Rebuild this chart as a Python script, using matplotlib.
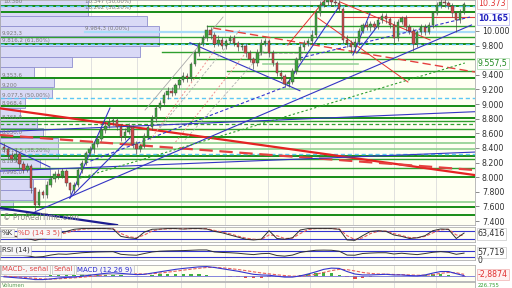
import numpy as np
import matplotlib.pyplot as plt
from matplotlib.transforms import blended_transform_factory

# --- 1. Datos de las velas ---
closes = [
    8380, 8300, 8250, 8320, 8180, 8100, 8150, 7850, 7620, 7800,
    7760, 7900, 7980, 8050, 8020, 8080, 7920, 7830, 7900, 8100,
    8200, 8330, 8380, 8460, 8520, 8640, 8700, 8760, 8780, 8690,
    8550, 8620, 8680, 8450, 8380, 8430, 8560, 8680, 8800, 8950,
    9020, 9120, 9180, 9150, 9260, 9330, 9390, 9360, 9550, 9700,
    9820, 9900, 10020, 9940, 9820, 9880, 9800, 9860, 9900, 9830,
    9780, 9800, 9700, 9620, 9560, 9700, 9830, 9860, 9700, 9560,
    9430, 9380, 9280, 9300, 9450, 9620, 9780, 9830, 9860, 9950,
    10250, 10360, 10400, 10420, 10390, 10380, 10300, 9880, 9840, 9780,
    9850, 10000, 10080, 10050, 10100, 10060, 10150, 10200, 10160, 10080,
    9900, 10120, 10180, 10050, 10000, 9820, 9980, 10050, 9990, 10080,
    10250, 10350, 10400, 10380, 10340, 10250, 10150, 10260, 10373]
first_open = 8420
wick_up = [
    50, 30, 40, 60, 30, 40, 50, 30, 20, 40,
    30, 50, 40, 30, 60, 40, 30, 20, 40, 30,
    40, 30, 50, 40, 30, 40, 50, 60, 40, 30,
    40, 50, 60, 30, 40, 30, 40, 30, 50, 40,
    30, 40, 50, 60, 30, 40, 50, 40, 30, 40,
    30, 40, 60, 40, 50, 60, 40, 30, 50, 40,
    30, 40, 30, 40, 30, 50, 60, 40, 30, 40,
    30, 40, 30, 50, 40, 30, 40, 50, 40, 60,
    40, 50, 40, 30, 40, 50, 40, 30, 60, 40,
    50, 40, 30, 50, 40, 30, 40, 50, 40, 30,
    60, 40, 30, 40, 50, 40, 30, 40, 50, 40,
    30, 40, 50, 40, 30, 40, 30, 40, 30]
wick_dn = [
    40, 50, 30, 40, 50, 40, 30, 60, 70, 30,
    50, 40, 30, 40, 50, 30, 40, 60, 40, 30,
    40, 30, 40, 50, 40, 30, 40, 30, 50, 40,
    60, 40, 30, 50, 60, 40, 30, 40, 30, 40,
    30, 40, 50, 40, 30, 40, 30, 60, 40, 30,
    40, 30, 40, 50, 40, 30, 50, 40, 30, 40,
    50, 40, 60, 40, 80, 40, 30, 40, 50, 40,
    40, 50, 50, 40, 30, 40, 30, 40, 30, 40,
    30, 40, 30, 40, 50, 40, 30, 40, 60, 80,
    50, 40, 30, 40, 50, 40, 30, 40, 50, 40,
    60, 40, 30, 50, 40, 100, 40, 30, 40, 30,
    40, 30, 40, 50, 40, 60, 160, 40, 30]

# perfil de volumen (base de cada tramo de precio y volumen)
vp_price = [10350, 10210, 10070, 9930, 9790, 9650, 9510, 9370, 9230, 9090, 8950,
            8810, 8670, 8530, 8390, 8250, 8110, 7970, 7830, 7690, 7550]
vp_vol = [880, 880, 1470, 1590, 1590, 1400, 720, 340, 540, 520, 250,
          200, 370, 430, 580, 580, 400, 500, 330, 330, 130]

# líneas horizontales (soportes / resistencias / fibonacci)
hl_dark = [10347, 10262, 9816.2, 9353.6, 8968.4, 8806, 8554, 8294, 7998, 7596, 7483]
hl_mid = [9923.3, 8765, 8655, 8245, 8130]
hl_light = [9200, 8472, 8382, 7665]
hl_cyan = [10347, 9816.2, 9077.5, 8317]
hl_part_price = [10068, 9717, 9613, 9457]
hl_part_start = [52.1, 40.5, 49.5, 57.2]

# líneas de tendencia: ((x0, x1), (y0, y1))
red_thick = [((-1, 120.8), (8942, 8029))]
red_dashed = [((-1, 120.8), (8577, 8098))]
red_dashed_thin = [((53.6, 120.8), (10041, 9439))]
red_thin = [((72.8, 82.3), (9808, 10424)), ((86.2, 109.3), (10397, 9877)),
            ((80.5, 103.6), (10178, 9302))]
red_dotted = [((37.5, 54.1), (8508, 9740)), ((44.0, 62.0), (8480, 9700))]
blue_thin = [((8.0, 119.9), (7527, 10082)), ((16.9, 27.2), (7715, 8946)),
             ((16.9, 32.3), (7715, 8536)), ((-1, 11.8), (8467, 8139)),
             ((-1, 120.8), (8622, 8896)), ((-1, 120.8), (8084, 8344)),
             ((47.7, 75.9), (9840, 9183)), ((72.6, 86.2), (9275, 10356)),
             ((89.5, 93.9), (9671, 10246)), ((90.5, 96.4), (9699, 10109))]
blue_thick = [((-1, 29), (7578, 7345))]
blue_dashed = [((19.5, 73.4), (8166, 9261)), ((75.9, 119.5), (9630, 10191))]
gray_solid = [((36.2, 56.2), (8919, 10191))]
gray_dashed = [((40.0, 60.5), (8672, 10013)), ((46.4, 66.9), (8508, 9740))]
green_dashed = [((19.5, 118.2), (7988, 9562))]

# indicadores (un valor cada dos velas)
ind_idx = list(range(0, 119, 2))
stoch_k = [45, 40, 35, 25, 12, 25, 45, 60, 75, 90,
           95, 95, 95, 95, 92, 40, 30, 25, 70, 90,
           92, 95, 95, 92, 95, 95, 92, 75, 65, 50,
           35, 20, 15, 20, 80, 25, 20, 30, 85, 95,
           95, 95, 95, 90, 15, 12, 45, 75, 80, 75,
           50, 40, 25, 30, 45, 80, 92, 90, 25, 63.4]
stoch_d = [50, 44, 38, 30, 20, 22, 35, 52, 65, 80,
           90, 94, 95, 95, 94, 60, 38, 30, 50, 78,
           90, 93, 95, 93, 94, 95, 94, 82, 70, 58,
           42, 28, 20, 18, 50, 45, 25, 28, 60, 88,
           95, 95, 95, 92, 45, 18, 30, 60, 76, 78,
           60, 46, 32, 30, 40, 65, 86, 90, 50, 45]
rsi = [48, 45, 44, 40, 32, 35, 45, 52, 50, 55,
       60, 63, 65, 66, 67, 50, 46, 44, 55, 65,
       70, 72, 73, 74, 76, 78, 78, 65, 62, 60,
       57, 52, 48, 54, 56, 42, 38, 45, 62, 70,
       76, 77, 76, 70, 45, 44, 55, 58, 60, 60,
       52, 57, 52, 48, 55, 63, 67, 63, 50, 57.7]
macd = [-40, -60, -80, -100, -130, -130, -110, -80, -60, -50,
        -20, 10, 40, 70, 90, 70, 50, 30, 40, 80,
        120, 160, 200, 230, 255, 280, 290, 260, 220, 180,
        140, 90, 40, 20, 10, -20, -50, -50, -10, 50,
        120, 200, 240, 230, 130, 50, 20, 20, 30, 40,
        20, 20, 0, -10, 20, 80, 130, 130, 60, -3]
signal = [-20, -35, -50, -70, -90, -110, -115, -105, -90, -75,
          -55, -30, -5, 25, 50, 65, 65, 55, 50, 60,
          80, 110, 140, 175, 205, 235, 260, 265, 250, 225,
          195, 160, 120, 85, 55, 25, 0, -20, -20, 0,
          40, 100, 160, 200, 190, 150, 100, 70, 50, 45,
          35, 30, 20, 10, 10, 30, 70, 100, 90, 40]

grid_idx = [10.5, 22.3, 34.1, 45.4, 56.7, 67.7, 78.5, 89.5, 100.0, 110.8]
y_ticks = [7400, 7600, 7800, 8000, 8200, 8400, 8600, 8800, 9000, 9200, 9400, 9800, 10000]

# etiquetas de la izquierda (texto, x, y)
lbl_text = ['10.380', '10.347 (50,00%)', '10.262 (38,20%)', '9.984,3 (0,00%)', '9.923,3',
            '9.816,2 (61,80%)', '9.353,6', '9.200', '9.077,5 (50,00%)', '8.968,4',
            '8.765,0', '8.650,0', '8.317,5 (38,20%)', '8.185,0', '7.998,0']
lbl_x = [-0.2, 20.9, 20.9, 20.7, -0.5, -0.5, -0.5, -0.5, -0.5, -0.5, -0.5, -0.5, -0.5, -0.5, -0.5]
lbl_y = [10397, 10397, 10315, 10034, 9972, 9870, 9398, 9254, 9124, 9015,
         8816, 8611, 8371, 8221, 8070]

# --- 2. Figura y paneles ---
BG = '#fffff2'
XMIN, XMAX = -1, 120.8
fig = plt.figure(figsize=(5.12, 2.88), dpi=100)
fig.patch.set_facecolor('white')
W = 0.9277
ax = fig.add_axes([0, 0.2187, W, 0.7813])
ax_sto = fig.add_axes([0, 0.158, W, 0.0538])
ax_rsi = fig.add_axes([0, 0.0955, W, 0.0538])
ax_macd = fig.add_axes([0, 0.026, W, 0.0538])
ax_vol = fig.add_axes([0, 0.0, W, 0.0205])

for a in [ax, ax_sto, ax_rsi, ax_macd, ax_vol]:
    a.set_facecolor(BG)
    a.set_xlim(XMIN, XMAX)
    a.set_xticks([])
    a.set_yticks([])
    for s in a.spines.values():
        s.set_color('#b0b0b0')
        s.set_linewidth(0.6)
    for g in grid_idx:
        a.axvline(g, color='#dcdcdc', lw=0.6, zorder=0)

# --- 3. Panel de precio ---
ax.set_ylim(7346, 10424)

# perfil de volumen
vp_scale = 0.335 * (XMAX - XMIN) / max(vp_vol)
ax.barh(vp_price, [v * vp_scale for v in vp_vol], height=140, left=XMIN, align='edge',
        color='#d9d9f6', edgecolor='#8f8fd0', linewidth=0.6, zorder=1)

# líneas horizontales
for p in hl_dark:
    ax.axhline(p, color='#178c17', lw=1.4, zorder=2)
for p in hl_mid:
    ax.axhline(p, color='#2f9f2f', lw=1.0, zorder=2)
for p in hl_light:
    ax.axhline(p, color='#8fd08f', lw=1.2, zorder=2)
for p, x0 in zip(hl_part_price, hl_part_start):
    ax.plot([x0, XMAX], [p, p], color='#2f9f2f', lw=1.0, zorder=2)
ax.plot([66.4, 90.8], [9548, 9548], color='#9ad49a', lw=1.2, zorder=2)
ax.plot([20.8, XMAX], [9984.3, 9984.3], color='#a8dcf8', lw=1.6, zorder=2)
for p in hl_cyan:
    ax.axhline(p, color='#5cc8f5', lw=1.0, ls=(0, (3, 2)), zorder=2)
ax.axhline(8728, color='#2f9f2f', lw=0.9, ls=(0, (3, 2)), zorder=2)
ax.plot([86.9, XMAX], [10187, 10187], color='#e04040', lw=0.8, zorder=2)
ax.plot([66.4, 78.0], [9695, 9695], color='#b0b0b0', lw=0.7, ls='--', zorder=2)

# líneas de tendencia
def draw(lines, **kw):
    for xs, ys in lines:
        ax.plot(xs, ys, zorder=3, **kw)

draw(red_thick, color='#e52222', lw=1.6)
draw(red_dashed, color='#e54040', lw=1.6, ls=(0, (6, 3)))
draw(red_dashed_thin, color='#e54040', lw=1.0, ls=(0, (6, 3)))
draw(red_thin, color='#e53030', lw=0.7)
draw(red_dotted, color='#f09090', lw=0.7, ls=(0, (2, 2)))
draw(blue_thin, color='#3434c4', lw=0.8)
draw(blue_thick, color='#1c1c90', lw=1.6)
draw(blue_dashed, color='#3434d0', lw=0.8, ls=(0, (3, 2)))
draw(gray_solid, color='#a8a8a8', lw=0.6)
draw(gray_dashed, color='#b0b0b0', lw=0.6, ls=(0, (3, 2)))
draw(green_dashed, color='#2f9f2f', lw=0.8, ls=(0, (2, 2)))

# velas
x_idx = np.arange(len(closes))
opens = np.array([first_open] + closes[:-1], dtype=float)
cl = np.array(closes, dtype=float)
top = np.maximum(opens, cl)
bot = np.minimum(opens, cl)
highs = top + np.array(wick_up)
lows = bot - np.array(wick_dn)
colors = ['#3da63d' if c >= o else '#cc4848' for o, c in zip(opens, cl)]
ax.vlines(x_idx, lows, highs, color='#505050', lw=0.5, zorder=4)
ax.bar(x_idx, np.maximum(top - bot, 8), bottom=bot, width=0.62, color=colors,
       edgecolor='#404040', linewidth=0.3, zorder=5)

# eje de precios a la derecha
ax.yaxis.tick_right()
ax.set_yticks(y_ticks)
ax.set_yticklabels([f'{v:,.0f}'.replace(',', '.') for v in y_ticks])
ax.tick_params(axis='y', labelsize=5.7, length=3, width=0.6, color='#777777',
               labelcolor='#303030', pad=2)

trans = blended_transform_factory(ax.transAxes, ax.transData)
ax.text(1.006, 10373, '10.373', color='#e03030', fontsize=5.7, va='center', transform=trans,
        bbox=dict(boxstyle='square,pad=0.15', fc='white', ec='#eeb0b0', lw=0.5))
ax.text(1.006, 10165, '10.165', color='#2222c0', fontsize=5.7, va='center', transform=trans,
        fontweight='bold', bbox=dict(boxstyle='square,pad=0.15', fc='white', ec='#b0b0f0', lw=0.5))
ax.text(1.006, 9557.5, '9.557,5', color='#208a20', fontsize=5.7, va='center', transform=trans,
        bbox=dict(boxstyle='square,pad=0.15', fc='white', ec='#a8d8a8', lw=0.5))

# etiquetas de la izquierda
for t, x, y in zip(lbl_text, lbl_x, lbl_y):
    ax.text(x, y, t, fontsize=4, color='#7a7a7a', va='center', ha='left', zorder=6)

ax.text(0.006, 0.012, '© ProRealTime.com', transform=ax.transAxes, fontsize=5.5,
        color='#8a8a8a', va='bottom', zorder=6)

# --- 4. Estocástico ---
ax_sto.set_ylim(-3, 106)
ax_sto.axhline(80, color='#3434d0', lw=0.8)
ax_sto.axhline(20, color='#3434d0', lw=0.8)
ax_sto.plot(ind_idx, stoch_d, color='#e86060', lw=0.8, ls=(0, (3, 1.5)))
ax_sto.plot(ind_idx, stoch_k, color='#303030', lw=0.7)
box = dict(boxstyle='square,pad=0.2', fc='#f6f6f6', ec='#c0c0c0', lw=0.5)
ax_sto.text(0.004, 0.62, '%K', transform=ax_sto.transAxes, fontsize=5, color='#303030',
            va='center', bbox=box)
ax_sto.text(0.038, 0.62, '%D (14 3 5)', transform=ax_sto.transAxes, fontsize=5,
            color='#e04848', va='center', bbox=box)
ax_sto.text(1.006, 0.55, '63,416', transform=ax_sto.transAxes, fontsize=5.7,
            color='#303030', va='center', bbox=dict(boxstyle='square,pad=0.15', fc='white',
                                                      ec='#c8c8c8', lw=0.5))

# --- 5. RSI ---
ax_rsi.set_ylim(10, 110)
ax_rsi.axhline(70, color='#3434d0', lw=0.8)
ax_rsi.axhline(30, color='#3434d0', lw=0.8)
ax_rsi.plot(ind_idx, rsi, color='#303030', lw=0.7)
ax_rsi.text(0.004, 0.68, 'RSI (14)', transform=ax_rsi.transAxes, fontsize=5,
            color='#303030', va='center', bbox=box)
ax_rsi.text(1.006, 0.5, '57,719', transform=ax_rsi.transAxes, fontsize=5.7,
            color='#303030', va='center', bbox=dict(boxstyle='square,pad=0.15', fc='white',
                                                      ec='#c8c8c8', lw=0.5))
ax_rsi.text(1.006, 0.02, '0', transform=ax_rsi.transAxes, fontsize=5.5,
            color='#303030', va='center')

# --- 6. MACD ---
ax_macd.set_ylim(-160, 340)
hist = np.array(macd) - np.array(signal)
ax_macd.bar(ind_idx, hist, width=0.9, color=['#40b040' if h >= 0 else '#e04848' for h in hist],
            zorder=2)
ax_macd.axhline(0, color='#7070d8', lw=0.6)
ax_macd.plot(ind_idx, signal, color='#e86060', lw=0.8, ls=(0, (3, 1.5)), zorder=3)
ax_macd.plot(ind_idx, macd, color='#3434d0', lw=0.8, zorder=4)
ax_macd.text(0.004, 0.72, 'MACD-, señal', transform=ax_macd.transAxes, fontsize=5,
             color='#e04848', va='center', bbox=box)
ax_macd.text(0.112, 0.72, 'Señal', transform=ax_macd.transAxes, fontsize=5,
             color='#e04848', va='center', bbox=box)
ax_macd.text(0.163, 0.72, 'MACD (12 26 9)', transform=ax_macd.transAxes, fontsize=5,
             color='#2a2ad0', va='center', bbox=box)
ax_macd.text(1.006, 0.4, '-2,8874', transform=ax_macd.transAxes, fontsize=5.7,
             color='#e03030', va='center', bbox=dict(boxstyle='square,pad=0.15', fc='#fff0f0',
                                                       ec='#f0b0b0', lw=0.5))

# --- 7. Volumen (franja inferior) ---
ax_vol.text(0.004, 0.5, 'Volumen', transform=ax_vol.transAxes, fontsize=3.8,
            color='#5a9a5a', va='center')
ax_vol.text(1.006, 0.5, '226.755', transform=ax_vol.transAxes, fontsize=3.8,
            color='#30a030', va='center')

fig.savefig('out.png', dpi=100)
